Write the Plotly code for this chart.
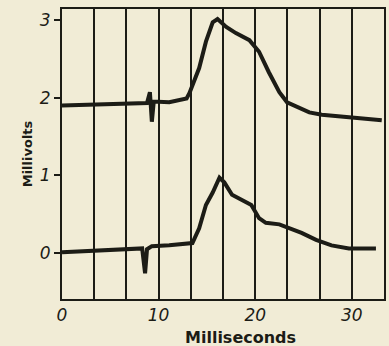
import plotly.graph_objects as go

# Upper trace (offset record, mV)
upper_ms = [0, 3, 6, 8.8, 9.1, 9.3, 9.5, 11.1, 12.9, 13.2, 14.2, 14.9, 15.6, 16.1, 17.0, 18.0,
            19.4, 20.4, 21.4, 22.5, 23.3, 24.5, 25.6, 26.9, 30.0, 33.1]
upper_mv = [1.90, 1.91, 1.92, 1.93, 2.07, 1.69, 1.95, 1.94, 1.99, 2.06, 2.38, 2.72, 2.97, 3.01, 2.91, 2.83,
            2.74, 2.59, 2.33, 2.07, 1.94, 1.87, 1.81, 1.78, 1.75, 1.71]

# Lower trace
lower_ms = [0, 4, 8.3, 8.6, 8.8, 9.3, 11.1, 13.5, 14.2, 14.9, 15.6, 16.3, 16.8, 17.6, 18.7, 19.6,
            20.4, 21.1, 22.5, 23.5, 24.8, 26.3, 27.9, 29.7, 32.5]
lower_mv = [0.01, 0.04, 0.06, -0.26, 0.05, 0.09, 0.10, 0.13, 0.32, 0.62, 0.78, 0.97, 0.91, 0.75, 0.68, 0.62,
            0.45, 0.39, 0.37, 0.32, 0.26, 0.17, 0.10, 0.06, 0.06]

grid_ms = [i * 10 / 3 for i in range(11)]
grid_text = ["0", "", "", "10", "", "", "20", "", "", "30", ""]
y_ticks = [0, 1, 2, 3]
y_text = ["0", "1", "2", "3"]

ink = "#1c1c16"
paper = "#f1ecd6"

fig = go.Figure()
for xs, ys in [(upper_ms, upper_mv), (lower_ms, lower_mv)]:
    fig.add_trace(go.Scatter(x=xs, y=ys, mode="lines",
                             line=dict(color=ink, width=4, shape="linear"),
                             showlegend=False, hoverinfo="skip"))

fig.update_layout(
    width=389, height=346,
    margin=dict(l=62, r=5, t=9, b=47),
    paper_bgcolor=paper, plot_bgcolor=paper,
    xaxis=dict(range=[0, 100 / 3], tickvals=grid_ms, ticktext=grid_text, automargin=False,
               showgrid=True, gridcolor=ink, gridwidth=2, zeroline=False,
               showline=True, linecolor=ink, linewidth=2, mirror=True,
               ticks="", tickfont=dict(family="DejaVu Sans", size=17, color=ink, style="italic")),
    yaxis=dict(range=[-0.59, 3.14], tickvals=y_ticks, ticktext=y_text, automargin=False,
               showgrid=False, zeroline=False,
               showline=True, linecolor=ink, linewidth=2, mirror=True,
               ticks="outside", ticklen=6, tickwidth=2, tickcolor=ink,
               tickfont=dict(family="DejaVu Sans", size=17, color=ink, style="italic"),
               title=dict(text="<b>Millivolts</b>", font=dict(family="DejaVu Sans", size=13, color=ink),
                          standoff=4)),
    annotations=[dict(text="<b>Milliseconds</b>", xref="paper", yref="paper",
                      x=0.553, y=-0.134, xanchor="center", yanchor="middle", showarrow=False,
                      font=dict(family="DejaVu Sans", size=16, color=ink))],
)

fig.write_html("out.html", config={"displayModeBar": False},
               post_script="document.body.style.margin='0';document.body.style.background='%s';" % paper)
